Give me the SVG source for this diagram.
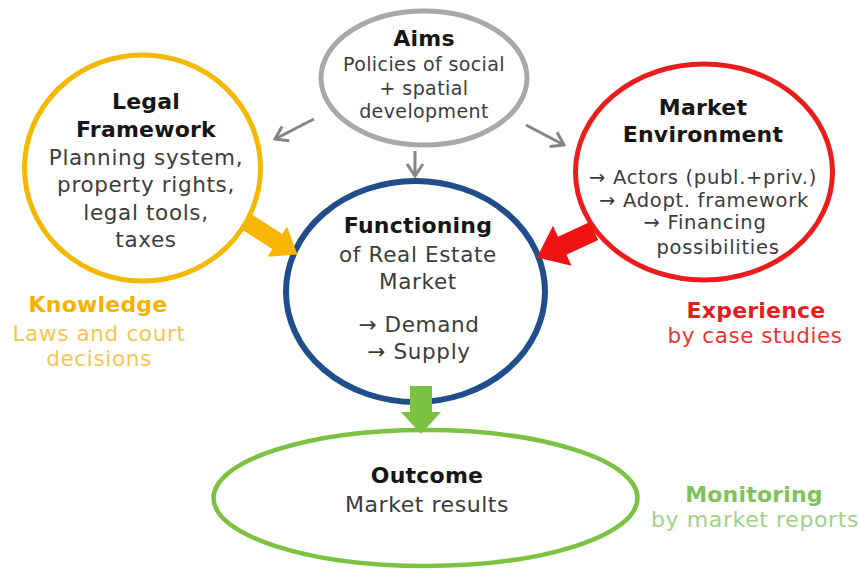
<svg xmlns="http://www.w3.org/2000/svg" width="859" height="571" viewBox="0 0 859 571">
  <style>
    text { font-family: "DejaVu Sans", Verdana, sans-serif; text-anchor: middle; }
    .ttl { font-weight: bold; font-size: 22px; fill: #161616; letter-spacing: 0.2px; }
    .body { font-size: 21.5px; fill: #3c3c3c; letter-spacing: 0.65px; }
    .small { font-size: 19px; fill: #3c3c3c; letter-spacing: 0.4px; }
    .env { font-size: 19.5px; letter-spacing: 0.7px; }
    .ring { fill: none; }
    .thin { fill: none; stroke: #858585; stroke-width: 3; }
  </style>
  <defs>
    <marker id="chev" markerUnits="userSpaceOnUse" viewBox="-16 -10 18 20" markerWidth="18" markerHeight="20" refX="0" refY="0" orient="auto">
      <path d="M -12,-8 L 0,0 L -12,8" fill="none" stroke="#858585" stroke-width="3" stroke-linejoin="miter"/>
    </marker>
  </defs>

  <!-- Aims -->
  <g id="aims">
    <ellipse class="ring" cx="424" cy="78" rx="103" ry="67" stroke="#a8a8a8" stroke-width="5"/>
    <text x="424" y="46" class="ttl">Aims</text>
    <text x="424" y="71" class="small">Policies of social</text>
    <text x="424" y="95" class="small">+ spatial</text>
    <text x="424" y="118" class="small">development</text>
  </g>

  <!-- Legal framework -->
  <g id="legal">
    <ellipse class="ring" cx="142.5" cy="168" rx="118" ry="113" stroke="#f5b800" stroke-width="5"/>
    <text x="146" y="109" class="ttl">Legal</text>
    <text x="146" y="137" class="ttl">Framework</text>
    <text x="146" y="165" class="body">Planning system,</text>
    <text x="146" y="192" class="body">property rights,</text>
    <text x="146" y="220" class="body">legal tools,</text>
    <text x="146" y="247" class="body">taxes</text>
  </g>

  <!-- Market environment -->
  <g id="market">
    <ellipse class="ring" cx="704" cy="172" rx="128.5" ry="108" stroke="#ea1c1c" stroke-width="5"/>
    <text x="703" y="115" class="ttl">Market</text>
    <text x="703" y="142" class="ttl">Environment</text>
    <text x="703" y="184" class="small env">→ Actors (publ.+priv.)</text>
    <text x="704" y="207" class="small env">→ Adopt. framework</text>
    <text x="705" y="229" class="small env">→ Financing</text>
    <text x="718" y="254" class="small env">possibilities</text>
  </g>

  <!-- Knowledge label -->
  <g id="knowledge">
    <text x="98" y="312" class="ttl" style="fill:#f2b300">Knowledge</text>
    <text x="99" y="341" class="body" style="fill:#f4c650">Laws and court</text>
    <text x="99" y="366" class="body" style="fill:#f4c650">decisions</text>
  </g>

  <!-- Experience label -->
  <g id="experience">
    <text x="756" y="318" class="ttl" style="fill:#e41e1e">Experience</text>
    <text x="755" y="343" class="body" style="fill:#e83434;letter-spacing:0.55px">by case studies</text>
  </g>

  <!-- Functioning of the real estate market -->
  <g id="functioning">
    <ellipse class="ring" cx="415.5" cy="291.5" rx="129.5" ry="110.5" stroke="#1f4e8a" stroke-width="6"/>
    <text x="418" y="233" class="ttl">Functioning</text>
    <text x="418" y="262" class="body">of Real Estate</text>
    <text x="418" y="289" class="body">Market</text>
    <text x="419" y="332" class="body">→ Demand</text>
    <text x="419" y="359" class="body">→ Supply</text>
  </g>

  <!-- Outcome -->
  <g id="outcome">
    <ellipse class="ring" cx="425.5" cy="498" rx="212" ry="68" stroke="#7cc242" stroke-width="4.5"/>
    <text x="427" y="483" class="ttl">Outcome</text>
    <text x="427" y="512" class="body" style="font-size:22px;letter-spacing:0.55px">Market results</text>
  </g>

  <!-- Monitoring label -->
  <g id="monitoring">
    <text x="754" y="502" class="ttl" style="fill:#80c25a">Monitoring</text>
    <text x="755" y="527" class="body" style="fill:#a2d089;font-size:22px;letter-spacing:0.6px">by market reports</text>
  </g>

  <!-- Connectors -->
  <g id="connectors">
    <line class="thin" x1="314" y1="119" x2="275" y2="139" marker-end="url(#chev)"/>
    <line class="thin" x1="415" y1="151" x2="415" y2="176" marker-end="url(#chev)"/>
    <line class="thin" x1="526" y1="125" x2="564" y2="145" marker-end="url(#chev)"/>
    <polygon points="0,-9 36,-9 36,-18 60,0 36,18 36,9 0,9" fill="#f7b500" transform="translate(247,222) rotate(32.9)"/>
    <polygon points="0,-10 35,-10 35,-22 63,0 35,22 35,10 0,10" fill="#ee1414" transform="translate(594,231) rotate(155.1)"/>
    <polygon points="410,386 432,386 432,412 441,412 421,434 401,412 410,412" fill="#7cc242"/>
  </g>
</svg>
